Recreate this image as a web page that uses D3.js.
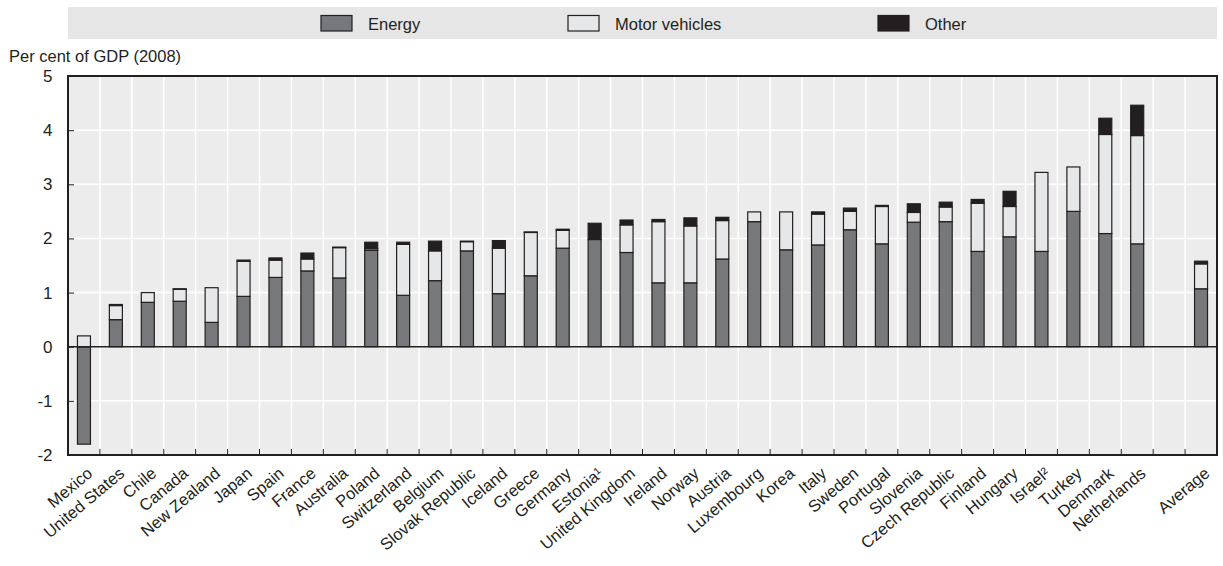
<!DOCTYPE html>
<html><head><meta charset="utf-8">
<script src="https://cdn.jsdelivr.net/npm/d3@7"></script>
<style>
html,body{margin:0;padding:0;background:#fff;}
svg text{font-family:"Liberation Sans",Arial,sans-serif;fill:#231f20;}
</style></head>
<body><svg id="c" width="1223" height="566"></svg>
<script>
const countries = ["Mexico","United States","Chile","Canada","New Zealand","Japan","Spain","France","Australia","Poland","Switzerland","Belgium","Slovak Republic","Iceland","Greece","Germany","Estonia¹","United Kingdom","Ireland","Norway","Austria","Luxembourg","Korea","Italy","Sweden","Portugal","Slovenia","Czech Republic","Finland","Hungary","Israel²","Turkey","Denmark","Netherlands","","Average"];
const energy = [-1.80,0.50,0.82,0.84,0.45,0.93,1.28,1.40,1.27,1.78,0.95,1.22,1.77,0.98,1.31,1.82,1.98,1.74,1.18,1.18,1.62,2.31,1.79,1.88,2.16,1.90,2.30,2.31,1.76,2.03,1.76,2.50,2.09,1.90,null,1.07];
const motor  = [0.20,0.26,0.18,0.22,0.64,0.65,0.32,0.22,0.56,0.03,0.94,0.55,0.17,0.84,0.80,0.33,0.00,0.51,1.13,1.05,0.71,0.18,0.70,0.57,0.34,0.69,0.18,0.27,0.89,0.56,1.46,0.82,1.83,2.00,null,0.46];
const other  = [0.00,0.02,0.00,0.01,0.00,0.02,0.04,0.11,0.01,0.12,0.04,0.18,0.01,0.14,0.01,0.02,0.30,0.09,0.04,0.15,0.06,0.00,0.00,0.04,0.06,0.02,0.16,0.09,0.07,0.28,0.00,0.00,0.30,0.56,null,0.05];
const seriesNames = ["Energy","Motor vehicles","Other"];
const yTicks = [-2,-1,0,1,2,3,4,5];
const yTitle = "Per cent of GDP (2008)";

const colors = {"Energy":"#77787b","Motor vehicles":"#e6e7e8","Other":"#231f20"};
const svg = d3.select("#c");
const L=68, R=1217, T=76, B=455;

const x = d3.scaleBand().domain(d3.range(countries.length)).range([L,R]).padding(0);
const y = d3.scaleLinear().domain([-2,5]).range([B,T]);

// legend
svg.append("rect").attr("x",L).attr("y",7).attr("width",R-L).attr("height",32).attr("fill","#e6e6e6");
const legX = [321,568,878];
seriesNames.forEach((s,i)=>{
  svg.append("rect").attr("x",legX[i]).attr("y",15.5).attr("width",31).attr("height",15.5)
    .attr("fill",colors[s]).attr("stroke","#231f20").attr("stroke-width",1.2);
  svg.append("text").attr("x",legX[i]+47).attr("y",29.5).attr("font-size",16.5).text(s);
});

// plot bg
svg.append("rect").attr("x",L).attr("y",T).attr("width",R-L).attr("height",B-T).attr("fill","#ececec");
// gridlines
const g = svg.append("g");
yTicks.forEach(t=>{ g.append("line").attr("x1",L).attr("x2",R).attr("y1",y(t)).attr("y2",y(t)).attr("stroke","#fff").attr("stroke-width",1.5); });
d3.range(1,countries.length).forEach(i=>{ g.append("line").attr("x1",x(i)).attr("x2",x(i)).attr("y1",T).attr("y2",B).attr("stroke","#fff").attr("stroke-width",1.5); });

// stack
const rows = countries.map((c,i)=>({i, "Energy":energy[i]||0, "Motor vehicles":motor[i]||0, "Other":other[i]||0, empty: energy[i]===null}));
const stack = d3.stack().keys(seriesNames).offset(d3.stackOffsetDiverging)(rows);
const bw = 13;
stack.forEach(layer=>{
  svg.append("g").selectAll("rect").data(layer.filter(d=>!d.data.empty && Math.abs(d[1]-d[0])>0.001)).join("rect")
    .attr("x",d=>x(d.data.i)+x.bandwidth()/2-bw/2)
    .attr("width",bw)
    .attr("y",d=>y(Math.max(d[0],d[1])))
    .attr("height",d=>Math.abs(y(d[0])-y(d[1])))
    .attr("fill",colors[layer.key])
    .attr("stroke","#231f20").attr("stroke-width",1.2);
});

// zero line
svg.append("line").attr("x1",L).attr("x2",R).attr("y1",y(0)).attr("y2",y(0)).attr("stroke","#231f20").attr("stroke-width",1.5);

// axes
const yAxis = d3.axisLeft(y).tickValues(yTicks).tickSize(-6).tickPadding(15.5).tickFormat(d=>String(d));
const ya = svg.append("g").attr("transform",`translate(${L},0)`).call(yAxis);
ya.select(".domain").remove();
ya.selectAll("line").attr("stroke","#231f20");
ya.selectAll("text").attr("font-size",17).attr("font-family",null).attr("fill","#231f20");

const xAxis = d3.axisBottom(x).tickValues(d3.range(1,countries.length)).tickSize(-6).tickFormat("");
const xa = svg.append("g").attr("transform",`translate(0,${B})`).call(xAxis);
xa.select(".domain").remove();
xa.selectAll(".tick").attr("transform",d=>`translate(${x(d)},0)`);
xa.selectAll("line").attr("stroke","#231f20");

// frame
svg.append("rect").attr("x",L).attr("y",T).attr("width",R-L).attr("height",B-T).attr("fill","none").attr("stroke","#231f20").attr("stroke-width",2);

// x labels
svg.append("g").selectAll("text").data(countries.map((c,i)=>({c,i})).filter(d=>d.c)).join("text")
  .attr("transform",d=>`translate(${x(d.i)+x.bandwidth()/2+2},${B+11}) rotate(-40)`)
  .attr("text-anchor","end").attr("dy","0.72em").attr("font-size",16.5).text(d=>d.c);

// y title
svg.append("text").attr("x",9).attr("y",62).attr("font-size",16.5).text(yTitle);
</script></body></html>
